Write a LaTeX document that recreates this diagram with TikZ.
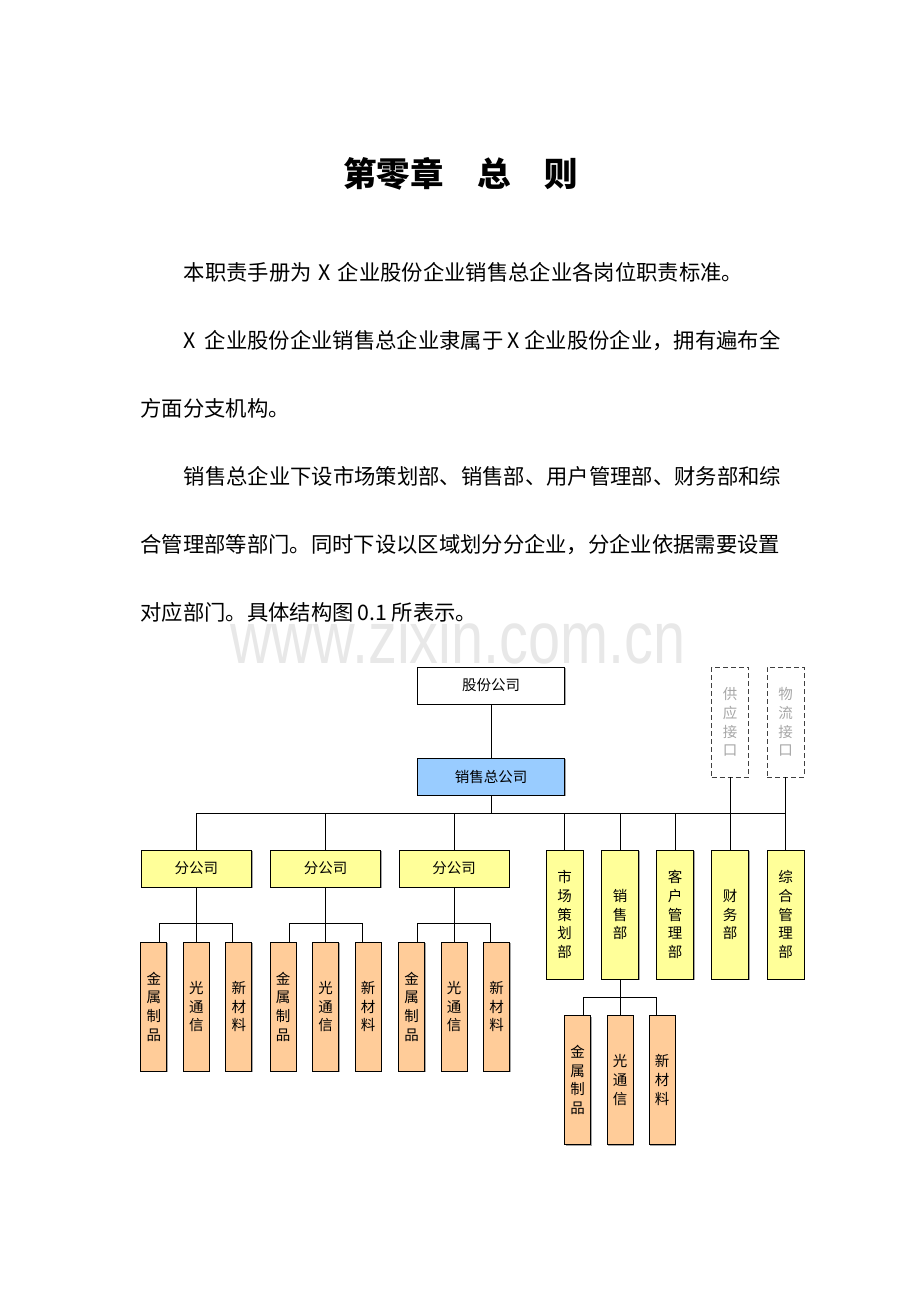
\documentclass[tikz,border=0pt]{standalone}
\usepackage{fontspec}
\setmainfont{Noto Sans CJK SC}
\newfontfamily\markfont{Liberation Sans}
\definecolor{unityellow}{HTML}{FFFF99}
\definecolor{unitorange}{HTML}{FFCC99}
\definecolor{headblue}{HTML}{99CCFF}
\definecolor{ifacegray}{HTML}{A6A6A6}
\usetikzlibrary{shadows}
\newcommand{\bodyfont}{\fontsize{21.33}{21.33}\selectfont}
\newcommand{\boxfont}{\fontsize{14.5}{18.7}\selectfont}

\begin{document}
\begin{tikzpicture}[x=1pt, y=-1pt, line width=0.8pt,
  textline/.style={anchor=west, inner sep=0pt, font=\bodyfont},
  orgbox/.style={draw, fill=white, inner sep=0pt, align=center, font=\boxfont,
    drop shadow={shadow xshift=1pt, shadow yshift=-1pt, fill=black, opacity=0.35}},
  topbox/.style={orgbox, minimum width=147pt, minimum height=37pt},
  branch/.style={orgbox, fill=unityellow, minimum width=110.5pt, minimum height=37pt},
  dept/.style={orgbox, fill=unityellow, minimum width=37pt, minimum height=129pt},
  unit/.style={orgbox, fill=unitorange, minimum width=26pt, minimum height=129pt},
  iface/.style={draw=black!75, dash pattern=on 5pt off 3pt, text=ifacegray, inner sep=0pt,
    align=center, font=\boxfont, minimum width=37pt, minimum height=110pt}
]
  \useasboundingbox (0,0) rectangle (920,1302);

  % watermark
  \node[font=\markfont\fontsize{74}{74}\selectfont, text=black!9, anchor=base,
    xscale=0.78, transform shape] (mark) at (458,663) {www.zixin.com.cn};

  % heading and text
  \node[font=\fontsize{33.5}{33.5}\selectfont\bfseries] (title) at (460.5,174) {第零章　总　则};
  \node[textline] (l1) at (183.5,272) {本职责手册为\makebox[26pt]{X}企业股份企业销售总企业各岗位职责标准。};
  \node[textline] (l2) at (183.5,340.1) {\makebox[21pt][l]{X}企业股份企业销售总企业隶属于\makebox[21pt]{X}企业股份企业，拥有遍布全};
  \node[textline] (l3) at (140,408.2) {方面分支机构。};
  \node[textline] (l4) at (183.5,476.3) {销售总企业下设市场策划部、销售部、用户管理部、财务部和综};
  \node[textline] (l5) at (140,544.4) {合管理部等部门。同时下设以区域划分分企业，分企业依据需要设置};
  \node[textline] (l6) at (140,612.5) {对应部门。具体结构图\makebox[38pt]{0.1}所表示。};

  % chart
  \node[topbox] (gf) at (491,685.5) {股份公司};
  \node[topbox, fill=headblue] (xs) at (491,776.5) {销售总公司};
  \node[iface] (gy) at (730,722) {供\\应\\接\\口};
  \node[iface] (wl) at (785.5,722) {物\\流\\接\\口};

  \node[dept] (sc) at (564.5,914.5) {市\\场\\策\\划\\部};
  \node[dept] (xsb) at (620,914.5) {销\\售\\部};
  \node[dept] (kh) at (675,914.5) {客\\户\\管\\理\\部};
  \node[dept] (cw) at (730,914.5) {财\\务\\部};
  \node[dept] (zh) at (785.5,914.5) {综\\合\\管\\理\\部};

  \foreach \i/\cx in {1/196.3, 2/325.5, 3/454.2} {
    \node[branch] (fg\i) at (\cx,868.5) {分公司};
    \node[unit] (jm\i) at (\cx-42.5,1006.5) {金\\属\\制\\品};
    \node[unit] (gt\i) at (\cx,1006.5) {光\\通\\信};
    \node[unit] (xc\i) at (\cx+42.5,1006.5) {新\\材\\料};
    \draw (fg\i) -- (gt\i);
    \draw (fg\i.south) -- ++(0,36.3) -| ([xshift=6pt]jm\i.north);
    \draw (fg\i.south) -- ++(0,36.3) -| ([xshift=-6pt]xc\i.north);
  }

  \node[unit] (sjm) at (577.5,1080) {金\\属\\制\\品};
  \node[unit] (sgt) at (620,1080) {光\\通\\信};
  \node[unit] (sxc) at (662,1080) {新\\材\\料};

  \draw (gf) -- (xs);
  \foreach \n in {fg1,fg2,fg3,sc,xsb,kh,cw,zh}
    \draw (xs.south) -- ++(0,18) -| (\n.north);
  \draw (gy) -- (cw);
  \draw (wl) -- (zh);

  \draw (xsb) -- (sgt);
  \draw (xsb.south) -- ++(0,18.3) -| ([xshift=5.5pt]sjm.north);
  \draw (xsb.south) -- ++(0,18.3) -| ([xshift=-5.5pt]sxc.north);
\end{tikzpicture}
\end{document}
